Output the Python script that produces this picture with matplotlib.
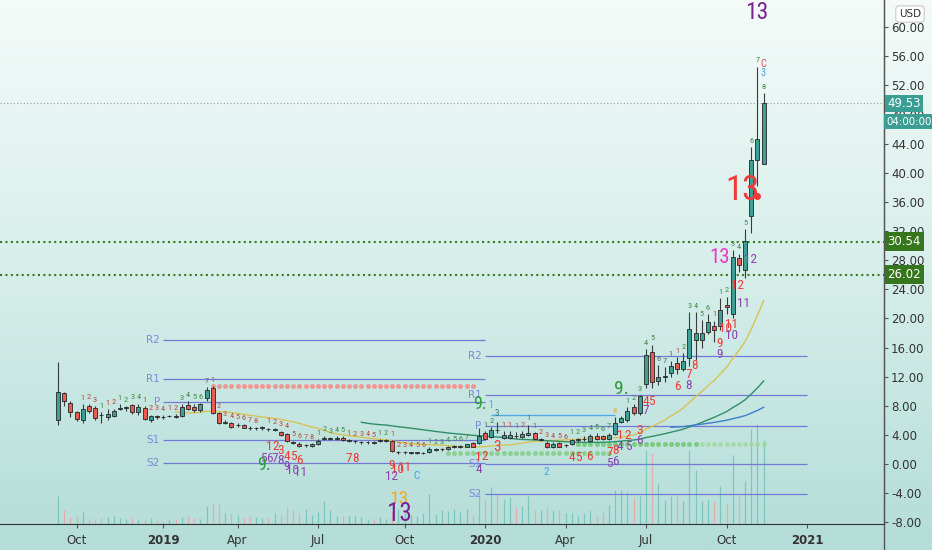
import numpy as np
import pandas as pd
import matplotlib
matplotlib.use('Agg')
import matplotlib.pyplot as plt
import matplotlib.dates as mdates
from matplotlib import font_manager
from matplotlib.ticker import FormatStrFormatter

# weekly bars (Monday opens)
dates = pd.date_range('2018-09-10', periods=115, freq='7D')

opens = [6.0, 9.7, 8.4, 7.1, 6.0, 8.0, 7.7, 6.75, 6.5, 6.65,
         7.6, 7.7, 8.1, 7.1, 7.7, 6.0, 6.6, 6.45, 6.55, 6.6,
         6.6, 8.1, 7.9, 7.4, 9.0, 10.4, 7.0, 5.7, 5.6, 5.35,
         5.35, 4.95, 4.9, 4.95, 4.8, 4.7, 4.4, 4.1, 2.95, 2.8,
         2.6, 2.5, 2.7, 3.45, 3.5, 3.4, 3.6, 3.2, 3.1, 3.0,
         3.0, 3.0, 3.1, 3.2, 3.1, 1.6, 1.6, 1.55, 1.55, 1.5,
         1.6, 1.95, 2.0, 2.05, 2.35, 2.4, 2.35, 2.85, 2.95, 4.2,
         3.75, 4.7, 3.6, 3.6, 3.85, 3.7, 4.0, 4.2, 3.3, 2.85,
         2.4, 2.85, 2.6, 2.7, 3.3, 3.4, 3.15, 3.8, 3.8, 3.45,
         4.1, 5.8, 6.0, 7.9, 7.0, 11.0, 15.4, 11.45, 12.0, 12.5,
         13.9, 13.1, 14.5, 17.1, 17.1, 18.2, 19.0, 19.0, 21.8, 20.6,
         28.3, 26.7, 34.1, 41.8, 41.2]
highs = [14.0, 9.9, 8.6, 7.3, 8.2, 8.3, 8.0, 7.1, 7.5, 7.6,
         8.2, 8.0, 8.3, 8.3, 8.0, 6.8, 6.8, 6.7, 6.8, 6.9,
         8.2, 8.6, 8.3, 8.4, 10.6, 10.7, 7.1, 6.0, 5.8, 5.6,
         5.5, 5.2, 5.1, 5.2, 5.0, 4.9, 4.6, 4.3, 3.2, 3.0,
         2.8, 2.9, 3.4, 3.9, 3.7, 3.8, 3.8, 3.4, 3.3, 3.2,
         3.2, 3.1, 3.4, 3.4, 3.3, 1.8, 1.8, 1.7, 1.7, 1.7,
         2.3, 2.2, 2.2, 2.5, 2.6, 2.6, 2.8, 3.0, 5.0, 4.5,
         5.1, 5.8, 4.5, 4.5, 4.4, 4.5, 5.4, 4.4, 3.6, 3.1,
         3.0, 3.0, 2.8, 3.5, 3.6, 3.8, 4.1, 4.2, 4.0, 4.3,
         6.4, 6.6, 7.8, 8.2, 9.5, 15.8, 16.4, 13.6, 13.3, 14.2,
         14.7, 15.2, 20.9, 20.9, 19.8, 20.6, 19.7, 22.8, 23.0, 29.4,
         28.9, 32.3, 43.5, 54.6, 50.9]
lows = [5.4, 8.0, 6.5, 5.9, 5.7, 7.0, 6.0, 5.6, 6.0, 6.4,
        7.4, 7.3, 6.9, 6.8, 6.0, 5.8, 6.2, 6.2, 6.4, 6.3,
        6.4, 7.4, 7.2, 7.2, 8.6, 6.9, 5.5, 5.5, 5.0, 5.1,
        4.9, 4.7, 4.7, 4.7, 4.5, 4.5, 3.9, 3.0, 2.7, 2.4,
        2.4, 2.4, 2.6, 3.3, 3.3, 3.3, 3.2, 3.0, 2.9, 2.8,
        2.8, 2.8, 3.0, 3.0, 1.7, 1.4, 1.4, 1.4, 1.4, 1.35,
        1.5, 1.8, 1.8, 1.9, 2.2, 2.2, 2.3, 2.3, 2.8, 3.3,
        3.6, 4.3, 3.5, 3.4, 3.6, 3.6, 3.9, 3.4, 3.1, 2.2,
        2.2, 2.3, 2.4, 2.6, 3.0, 3.2, 3.1, 3.3, 3.3, 3.3,
        4.0, 5.6, 5.8, 6.7, 6.8, 10.5, 10.5, 10.8, 11.2, 12.0,
        12.4, 12.8, 13.5, 14.3, 16.0, 17.8, 16.8, 18.4, 20.6, 20.0,
        26.4, 25.5, 31.8, 38.2, 41.2]
closes = [9.9, 8.6, 7.2, 6.2, 7.5, 7.3, 6.3, 6.7, 6.9, 7.3,
          7.7, 7.75, 7.1, 7.9, 6.2, 6.6, 6.4, 6.5, 6.6, 6.5,
          7.9, 7.6, 7.4, 8.2, 10.1, 7.0, 5.7, 5.75, 5.1, 5.35,
          5.0, 4.9, 4.9, 4.95, 4.75, 4.7, 4.0, 3.1, 2.93, 2.5,
          2.6, 2.8, 3.2, 3.5, 3.5, 3.6, 3.3, 3.2, 3.1, 3.0,
          3.0, 2.95, 3.3, 3.25, 1.8, 1.6, 1.6, 1.55, 1.55, 1.5,
          2.1, 2.0, 2.0, 2.4, 2.4, 2.4, 2.7, 2.4, 3.9, 3.5,
          4.7, 4.65, 4.0, 4.0, 3.8, 4.1, 4.3, 3.5, 3.3, 2.3,
          2.8, 2.4, 2.6, 3.3, 3.3, 3.4, 3.8, 3.4, 3.45, 4.05,
          5.6, 6.3, 7.3, 7.0, 9.3, 15.0, 11.2, 11.9, 12.05, 13.5,
          13.0, 14.15, 18.6, 18.0, 18.0, 19.5, 18.4, 21.2, 21.6, 28.5,
          27.3, 30.7, 41.8, 44.6, 49.53]
volume = [28, 14, 7, 8, 12, 5, 4, 6, 7, 8,
          6, 5, 6, 4, 4, 6, 4, 2, 4, 5,
          7, 8, 6, 5, 18, 20, 20, 11, 11, 9,
          7, 8, 7, 6, 7, 11, 9, 17, 14, 11,
          15, 9, 12, 23, 14, 8, 8, 8, 8, 7,
          4, 5, 7, 5, 12, 15, 11, 9, 8, 11,
          30, 10, 14, 13, 15, 12, 15, 9, 31, 25,
          37, 30, 25, 27, 17, 18, 28, 14, 14, 17,
          14, 14, 11, 11, 8, 11, 14, 8, 12, 19,
          34, 34, 32, 27, 28, 74, 71, 41, 24, 28,
          30, 23, 74, 54, 23, 24, 23, 38, 21, 69,
          28, 43, 95, 100, 84]

# yearly pivots
pivot_names = ['R2', 'R1', 'P', 'S1', 'S2']
pivots_2019 = [17.0, 11.7, 8.55, 3.3, 0.1]
pivots_2020 = [14.8, 9.5, 5.25, -0.05, -4.1]
levels = [30.54, 26.02]
last_price = 49.53

tick_dates = ['2018-10-01', '2019-01-07', '2019-04-01', '2019-07-01', '2019-10-07',
              '2020-01-06', '2020-04-06', '2020-07-06', '2020-10-05', '2021-01-04']
tick_labels = ['Oct', '2019', 'Apr', 'Jul', 'Oct', '2020', 'Apr', 'Jul', 'Oct', '2021']

# TD setup counts above bars: (bar, text, colour key)
setup_counts = [(4, '1', 'r'), (5, '2', 'r'), (6, '3', 'r'), (7, '1', 'g'), (8, '1', 'r'), (9, '2', 'r'),
                (10, '1', 'g'), (11, '2', 'g'), (12, '3', 'g'), (13, '4', 'g'), (14, '1', 'r'), (15, '2', 'r'),
                (16, '3', 'r'), (17, '4', 'r'), (18, '1', 'r'), (19, '2', 'r'), (20, '3', 'g'), (21, '4', 'g'),
                (22, '5', 'g'), (23, '6', 'g'), (24, '7', 'k'), (25, '1', 'r'), (26, '2', 'r'), (27, '3', 'r'),
                (28, '4', 'r'), (29, '5', 'r'), (30, '6', 'r'), (31, '7', 'r'), (32, '8', 'r'), (34, '1', 'r'),
                (35, '2', 'r'), (36, '3', 'r'), (37, '4', 'r'), (38, '5', 'r'), (39, '6', 'r'), (40, '7', 'r'),
                (41, '8', 'r'), (42, '1', 'g'), (43, '2', 'g'), (44, '3', 'g'), (45, '4', 'g'), (46, '5', 'g'),
                (47, '1', 'r'), (48, '2', 'r'), (49, '3', 'r'), (50, '4', 'r'), (51, '5', 'r'), (52, '1', 'g'),
                (53, '2', 'g'), (54, '1', 'r'), (55, '2', 'r'), (56, '3', 'r'), (57, '4', 'r'), (58, '5', 'r'),
                (59, '6', 'r'), (60, '1', 'g'), (61, '2', 'g'), (62, '3', 'g'), (63, '4', 'g'), (64, '5', 'g'),
                (65, '6', 'g'), (66, '7', 'g'), (69, '1', 'g'), (70, '2', 'g'), (72, '1', 'r'), (73, '1', 'r'),
                (74, '1', 'r'), (75, '2', 'r'), (76, '1', 'k'), (77, '1', 'r'), (78, '2', 'r'), (79, '3', 'r'),
                (80, '4', 'r'), (81, '5', 'r'), (82, '6', 'r'), (83, '1', 'g'), (84, '2', 'g'), (85, '3', 'g'),
                (86, '4', 'g'), (87, '5', 'g'), (88, '6', 'g'), (89, '7', 'g'), (90, '8', 'o'), (92, '1', 'g'),
                (93, '2', 'g'), (94, '3', 'g'), (95, '4', 'g'), (96, '5', 'g'), (97, '6', 'k'), (98, '7', 'k'),
                (99, '1', 'r'), (100, '1', 'r'), (101, '2', 'g'), (102, '3', 'g'), (103, '4', 'g'), (104, '5', 'g'),
                (105, '6', 'g'), (106, '1', 'r'), (107, '1', 'g'), (108, '2', 'g'), (109, '3', 'g'), (110, '4', 'g'),
                (111, '5', 'g'), (112, '6', 'g'), (113, '7', 'g'), (114, '8', 'g')]

# TD countdown labels: (bar position, price, text)
red_countdown = [(34.1, 2.4, '1'), (35.1, 2.4, '2'), (36.0, 1.9, '3'), (37.0, 1.0, '4'), (38.0, 1.0, '5'),
                 (39.0, 0.55, '6'), (47.0, 0.8, '7'), (48.1, 0.8, '8'), (53.9, -0.15, '9'), (54.9, -0.7, '10'),
                 (55.9, -0.45, '11'), (67.9, 0.95, '1'), (69.0, 1.1, '2'), (83.0, 0.95, '4'), (84.05, 0.95, '5'),
                 (85.9, 1.0, '6'), (89.05, 1.55, '7'), (90.0, 1.9, '8'), (90.8, 3.9, '1'), (92.1, 3.9, '2'),
                 (94.0, 4.55, '3'), (95.0, 8.65, '4'), (95.9, 8.65, '5'), (100.0, 10.6, '6'), (101.9, 12.3, '7'),
                 (102.9, 13.6, '8'), (106.95, 16.5, '9'), (107.9, 18.6, '10'), (108.85, 19.2, '11'),
                 (109.85, 24.5, '12')]
purple_countdown = [(33.2, 0.8, '5'), (34.1, 0.8, '6'), (34.95, 0.8, '7'), (36.0, 0.55, '8'), (36.95, -0.35, '9'),
                    (37.95, -0.9, '10'), (39.1, -1.2, '11'), (53.9, -1.75, '12'), (67.95, -0.75, '4'),
                    (89.05, 0.1, '5'), (90.0, 0.3, '6'), (90.85, 2.4, '4'), (92.15, 2.4, '5'), (93.9, 3.2, '6'),
                    (95.0, 7.3, '7'), (101.8, 10.85, '8'), (106.95, 15.0, '9'), (108.85, 17.7, '10'),
                    (110.8, 22.1, '11'), (111.9, 28.15, '12')]
# other markers: (bar position, price, text, colour, size)
extra_labels = [(33.2, -0.15, '9.', '#2f9a3a', 13), (68.2, 8.3, '9.', '#2f9a3a', 13),
                (91.1, 10.3, '9.', '#2f9a3a', 14), (71.0, 2.3, '3', '#f03a35', 11),
                (112.9, 62.0, '13', '#7a1f95', 17), (106.95, 28.4, '13', '#e838c8', 15),
                (55.15, -4.85, '13', '#f5a623', 14), (55.15, -6.8, '13', '#7a1f95', 18),
                (110.6, 37.6, '13', '#f03a35', 25), (69.95, 8.1, '1', '#45a4e6', 7),
                (57.95, -1.6, 'C', '#45a4e6', 8), (78.95, -1.05, '2', '#45a4e6', 8),
                (113.9, 53.75, '3', '#45a4e6', 7.5), (113.9, 54.9, 'C', '#e05050', 7.5),
                (70.9, 6.9, '3', '#2f7f6f', 6.5)]

up_col, dn_col = '#3e9f96', '#e85a52'
count_cols = {'g': '#3f8a45', 'r': '#c0483c', 'k': '#5a6a66', 'o': '#f2a33a'}

available = {f.name for f in font_manager.fontManager.ttflist}
narrow = next((n for n in ['Liberation Sans Narrow', 'DejaVu Sans Condensed', 'Roboto Condensed']
               if n in available), 'DejaVu Sans')
tfont = dict(family=narrow, fontstretch='condensed')

opens, highs, lows, closes = map(np.array, (opens, highs, lows, closes))
xs = mdates.date2num(dates)
up = closes >= opens

fig = plt.figure(figsize=(9.32, 5.5), dpi=100)

# background gradient
bg = fig.add_axes([0, 0, 1, 1], zorder=0)
stops = np.array([[244, 251, 249], [214, 238, 234], [180, 221, 216]]) / 255
t = np.linspace(0, 1, 300)
grad = np.stack([np.interp(t, [0, 0.5, 1], stops[:, k]) for k in range(3)], axis=1)
bg.imshow(grad[:, None, :], aspect='auto', extent=[0, 1, 0, 1])
bg.axis('off')

rect = [0, 26 / 550, 884 / 932, 524 / 550]
vax = fig.add_axes(rect, zorder=1)
ax = fig.add_axes(rect, zorder=2)
ax.patch.set_visible(False)

x_left, x_right = xs[0] - 65.6, xs[0] + 934.1
for a in (ax, vax):
    a.set_xlim(x_left, x_right)

# volume
vax.set_ylim(0, 524)
vax.vlines(xs, 0, volume, colors=np.where(up, '#62bdb2', '#f09a9a'), lw=0.9, alpha=0.7)
vax.axis('off')

# moving averages
cs = pd.Series(closes)
ax.plot(xs, cs.rolling(20).mean(), color='#d8c256', lw=1.0, zorder=3)
ax.plot(xs, cs.rolling(50).mean(), color='#2f8f68', lw=1.0, zorder=3)
ax.plot(xs, cs.rolling(100).mean(), color='#3b7fcf', lw=1.0, zorder=3)

# pivots
piv_col = '#7479d6'
for start, end, vals in [('2019-01-07', '2020-01-06', pivots_2019), ('2020-01-06', '2021-01-04', pivots_2020)]:
    s, e = mdates.datestr2num(start), mdates.datestr2num(end)
    ax.hlines(vals, s, e, color=piv_col, lw=0.9, zorder=2)
    for name, v in zip(pivot_names, vals):
        ax.annotate(name, (s, v), xytext=(-2.5, 0), textcoords='offset points', ha='right', va='center',
                    color='#8188d8', fontsize=7.5, zorder=4)

# dotted support/resistance dots
ax.plot(xs[25:68], np.full(43, 10.7), 'o', ms=3.6, color='#f3908a', alpha=0.9, mec='none', zorder=2)
ax.plot(xs[63:90], np.full(27, 1.5), 'o', ms=3.6, color='#82cc82', alpha=0.8, mec='none', zorder=2)
ax.plot(xs[84:104], np.full(20, 2.7), 'o', ms=3.6, color='#6cc46c', alpha=0.8, mec='none', zorder=2)
ax.plot(xs[104:115], np.full(11, 2.7), 'o', ms=3.6, color='#9fd89f', alpha=0.8, mec='none', zorder=2)
ax.hlines(6.75, xs[70], xs[90], color='#4fa8e8', lw=1.0, zorder=2)

# horizontal levels
ax.axhline(last_price, color='#9a9a9a', ls=(0, (1, 2)), lw=0.8, zorder=1)
for lv in levels:
    ax.axhline(lv, color='#3b7b1f', ls=(0, (1, 1.6)), lw=1.5, zorder=1)

# candles
ax.vlines(xs, lows, highs, color='#3a3a3a', lw=0.8, zorder=4)
body = np.maximum(np.abs(closes - opens), 0.07)
ax.bar(xs, body, bottom=np.minimum(opens, closes), width=4.5,
       color=np.where(up, up_col, dn_col), edgecolor='#262626', linewidth=0.6, zorder=5)

# TD counts
for i, s, c in setup_counts:
    ax.annotate(s, (xs[i], highs[i]), xytext=(0, 4.5), textcoords='offset points', ha='center', va='center',
                color=count_cols[c], fontsize=6, zorder=6, **tfont)
for c, p, s in red_countdown:
    ax.text(xs[0] + 7 * c, p, s, color='#f03a35', fontsize=9.5, ha='center', va='center', zorder=6, **tfont)
for c, p, s in purple_countdown:
    ax.text(xs[0] + 7 * c, p, s, color='#8e3fb0', fontsize=9.5, ha='center', va='center', zorder=6, **tfont)
for c, p, s, col, size in extra_labels:
    ax.text(xs[0] + 7 * c, p, s, color=col, fontsize=size, ha='center', va='center', zorder=6, **tfont)
ax.plot(xs[0] + 7 * 113.0, 36.85, 'o', ms=4, color='#f03a35', zorder=6)

# axes styling
ax.set_ylim(-8.24, 63.74)
ax.yaxis.tick_right()
ax.set_yticks(np.arange(-8, 61, 4))
ax.yaxis.set_major_formatter(FormatStrFormatter('%.2f'))
ax.tick_params(axis='y', length=3, color='#555555', labelsize=8.5, labelcolor='#333333', pad=2)
ax.set_xticks(mdates.datestr2num(tick_dates))
ax.set_xticklabels(tick_labels)
for lab in ax.get_xticklabels():
    if lab.get_text().isdigit():
        lab.set_fontweight('bold')
        lab.set_color('#111111')
ax.tick_params(axis='x', length=3, color='#555555', labelsize=8.5, labelcolor='#333333', pad=4)
for side in ('top', 'left'):
    ax.spines[side].set_visible(False)
ax.spines['bottom'].set_color('#333333')
ax.spines['right'].set_color('#555555')
fig.add_artist(plt.Line2D([884 / 932, 884 / 932], [0, 1], color='#555555', lw=1.0))

# price tags
tag = dict(xycoords=('axes fraction', 'data'), textcoords='offset points', ha='left', va='center',
           color='white')
ax.annotate(f'{last_price:.2f}', (1, last_price), xytext=(2.5, 0), fontsize=8.5,
            bbox=dict(boxstyle='square,pad=0.2', fc='#3a9e95', ec='none'), **tag)
ax.annotate('04:00:00', (1, last_price), xytext=(2, -13), fontsize=7.4,
            bbox=dict(boxstyle='square,pad=0.25', fc='#3a9e95', ec='none'), **tag)
for lv in levels:
    ax.annotate(f'{lv:.2f}', (1, lv), xytext=(2.5, 0), fontsize=8.5,
                bbox=dict(boxstyle='square,pad=0.25', fc='#36761c', ec='none'), **tag)

fig.text(910 / 932, 1 - 14 / 550, 'USD', ha='center', va='center', fontsize=7.5, color='#333333',
         bbox=dict(boxstyle='round,pad=0.3', fc='white', ec='#c8c8c8', lw=0.8))

fig.savefig('out.png', dpi=100)
